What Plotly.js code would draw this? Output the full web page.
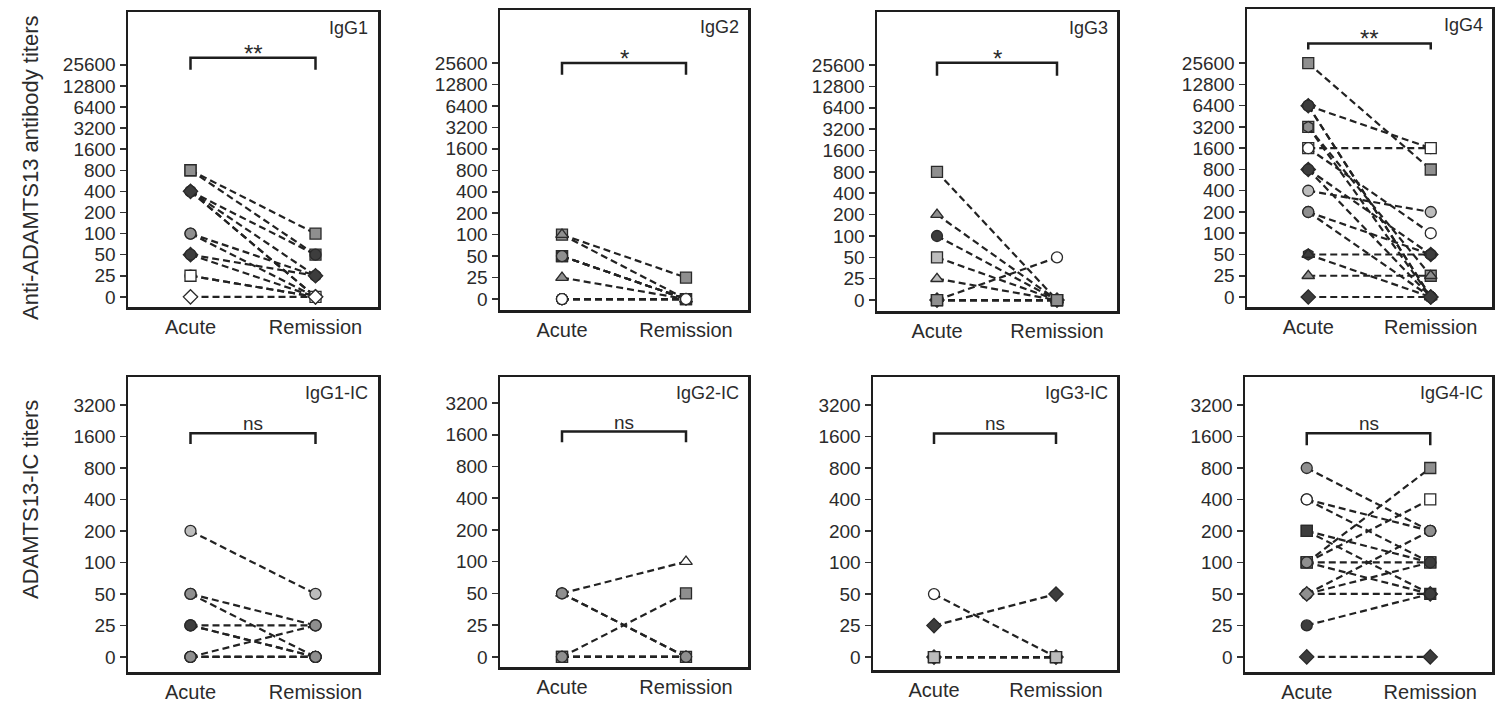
<!DOCTYPE html>
<html>
<head>
<meta charset="utf-8">
<script src="https://cdn.plot.ly/plotly-3.0.1.min.js"></script>
<style>
  html, body { margin: 0; padding: 0; background: #ffffff; }
  #chart { width: 1499px; height: 707px; }
</style>
</head>
<body>
<div id="chart"></div>
<script>
// ---------- DATA ----------
const TOP_TICKS = ['0', '25', '50', '100', '200', '400', '800', '1600', '3200', '6400', '12800', '25600'];
const BOTTOM_TICKS = ['0', '25', '50', '100', '200', '400', '800', '1600', '3200'];
const TIMEPOINTS = ['Acute', 'Remission'];
const PANEL_NAMES = ['IgG1', 'IgG2', 'IgG3', 'IgG4', 'IgG1-IC', 'IgG2-IC', 'IgG3-IC', 'IgG4-IC'];
const SIGNIFICANCE = ['**', '*', '*', '**', 'ns', 'ns', 'ns', 'ns'];
const Y_TITLES = ['Anti-ADAMTS13 antibody titers', 'ADAMTS13-IC titers'];

// IgG1
const IGG1_ACUTE     = [800, 800, 400, 400, 400, 400, 100, 100, 50, 50, 25, 25, 0];
const IGG1_REMISSION = [100, 50, 50, 25, 0, 0, 25, 0, 25, 0, 0, 0, 0];
const IGG1_SYMBOL    = ['square', 'square', 'circle', 'hexagon', 'circle', 'diamond', 'circle', 'circle', 'diamond', 'circle', 'circle', 'square', 'diamond'];
const IGG1_FILL      = ['gray', 'gray', 'dark', 'dark', 'dark', 'dark', 'gray', 'gray', 'dark', 'dark', 'open', 'open', 'open'];

// IgG2
const IGG2_ACUTE     = [100, 100, 50, 50, 50, 25, 0, 0, 0, 0, 0];
const IGG2_REMISSION = [25, 0, 0, 0, 0, 0, 0, 0, 0, 0, 0];
const IGG2_SYMBOL    = ['square', 'triangle-up', 'square', 'square', 'circle', 'triangle-up', 'circle', 'circle', 'circle', 'circle', 'circle'];
const IGG2_FILL      = ['gray', 'gray', 'dark', 'dark', 'gray', 'gray', 'gray', 'gray', 'open', 'open', 'open'];

// IgG3
const IGG3_ACUTE     = [800, 200, 100, 50, 25, 0, 0, 0, 0, 0, 0];
const IGG3_REMISSION = [0, 0, 0, 0, 0, 50, 0, 0, 0, 0, 0];
const IGG3_SYMBOL    = ['square', 'triangle-up', 'circle', 'square', 'triangle-up', 'circle', 'diamond', 'circle', 'square', 'square', 'square'];
const IGG3_FILL      = ['gray', 'gray', 'dark', 'light', 'light', 'open', 'dark', 'gray', 'gray', 'gray', 'gray'];

// IgG4
const IGG4_ACUTE     = [25600, 6400, 6400, 6400, 3200, 3200, 1600, 1600, 800, 800, 400, 200, 200, 50, 50, 25, 0];
const IGG4_REMISSION = [800, 1600, 0, 0, 25, 0, 1600, 100, 50, 0, 200, 0, 50, 50, 0, 25, 0];
const IGG4_SYMBOL    = ['square', 'circle', 'diamond', 'circle', 'square', 'hexagon', 'square', 'circle', 'diamond', 'circle', 'circle', 'circle', 'circle', 'hexagon', 'triangle-up', 'triangle-up', 'diamond'];
const IGG4_FILL      = ['gray', 'dark', 'dark', 'dark', 'gray', 'gray', 'open', 'open', 'dark', 'dark', 'light', 'gray', 'gray', 'dark', 'dark', 'gray', 'dark'];

// IgG1-IC
const IGG1IC_ACUTE     = [200, 50, 50, 25, 25, 25, 0, 0, 0, 0];
const IGG1IC_REMISSION = [50, 25, 0, 25, 0, 0, 25, 0, 0, 0];
const IGG1IC_SYMBOL    = ['circle', 'circle', 'circle', 'circle', 'circle', 'circle', 'circle', 'circle', 'circle', 'circle'];
const IGG1IC_FILL      = ['light', 'gray', 'gray', 'gray', 'dark', 'dark', 'gray', 'dark', 'dark', 'gray'];

// IgG2-IC
const IGG2IC_ACUTE     = [50, 50, 50, 0, 0, 0, 0, 0];
const IGG2IC_REMISSION = [100, 0, 0, 50, 0, 0, 0, 0];
const IGG2IC_SYMBOL    = ['triangle-up', 'circle', 'circle', 'square', 'circle', 'circle', 'square', 'circle'];
const IGG2IC_FILL      = ['open', 'light', 'gray', 'gray', 'dark', 'gray', 'gray', 'gray'];

// IgG3-IC
const IGG3IC_ACUTE     = [50, 25, 0, 0, 0, 0, 0];
const IGG3IC_REMISSION = [0, 50, 0, 0, 0, 0, 0];
const IGG3IC_SYMBOL    = ['circle', 'diamond', 'circle', 'square', 'diamond', 'square', 'square'];
const IGG3IC_FILL      = ['open', 'dark', 'gray', 'gray', 'dark', 'gray', 'light'];

// IgG4-IC
const IGG4IC_ACUTE     = [800, 400, 400, 200, 200, 100, 100, 100, 100, 50, 50, 50, 25, 0];
const IGG4IC_REMISSION = [200, 200, 100, 100, 50, 800, 400, 100, 50, 200, 100, 50, 50, 0];
const IGG4IC_SYMBOL    = ['circle', 'circle', 'circle', 'square', 'square', 'square', 'square', 'square', 'circle', 'circle', 'circle', 'diamond', 'circle', 'diamond'];
const IGG4IC_FILL      = ['gray', 'open', 'open', 'dark', 'dark', 'gray', 'open', 'gray', 'gray', 'gray', 'dark', 'gray', 'dark', 'dark'];

const PANELS = [
  { acute: IGG1_ACUTE, remission: IGG1_REMISSION, symbol: IGG1_SYMBOL, fill: IGG1_FILL, ticks: TOP_TICKS },
  { acute: IGG2_ACUTE, remission: IGG2_REMISSION, symbol: IGG2_SYMBOL, fill: IGG2_FILL, ticks: TOP_TICKS },
  { acute: IGG3_ACUTE, remission: IGG3_REMISSION, symbol: IGG3_SYMBOL, fill: IGG3_FILL, ticks: TOP_TICKS },
  { acute: IGG4_ACUTE, remission: IGG4_REMISSION, symbol: IGG4_SYMBOL, fill: IGG4_FILL, ticks: TOP_TICKS },
  { acute: IGG1IC_ACUTE, remission: IGG1IC_REMISSION, symbol: IGG1IC_SYMBOL, fill: IGG1IC_FILL, ticks: BOTTOM_TICKS },
  { acute: IGG2IC_ACUTE, remission: IGG2IC_REMISSION, symbol: IGG2IC_SYMBOL, fill: IGG2IC_FILL, ticks: BOTTOM_TICKS },
  { acute: IGG3IC_ACUTE, remission: IGG3IC_REMISSION, symbol: IGG3IC_SYMBOL, fill: IGG3IC_FILL, ticks: BOTTOM_TICKS },
  { acute: IGG4IC_ACUTE, remission: IGG4IC_REMISSION, symbol: IGG4IC_SYMBOL, fill: IGG4IC_FILL, ticks: BOTTOM_TICKS }
];

// ---------- LAYOUT / STYLE (pixel geometry, not data) ----------
const W = 1499, H = 707;
const FONT = "'Liberation Sans', Arial, sans-serif";
const TEXT = '#2b2b2b';
const FILL_COLORS = { gray: '#8f8f8f', dark: '#3d3d3d', light: '#bdbdbd', open: '#ffffff' };
// panel boxes: [left, right, top, bottom] in pixels
const BOXES = [
  [128, 378, 12, 307], [500, 748, 10, 310], [877, 1117, 12, 311], [1247, 1492, 9, 307],
  [128, 378, 377, 672], [500, 748, 377, 667], [873, 1117, 377, 670], [1245, 1492, 377, 672]
];
const Y_RANGES = [[-0.48, 13.5], [-0.51, 13.47], [-0.51, 13.48], [-0.47, 13.55],
                  [-0.48, 8.89], [-0.32, 8.82], [-0.41, 8.89], [-0.48, 8.89]];
const BRACKETS = [[10.76, 11.33], [10.45, 11.0], [10.5, 11.1], [11.65, 11.93],
                  [6.76, 7.1], [6.76, 7.1], [6.76, 7.1], [6.72, 7.1]];

const traces = [];
const layout = {
  width: W, height: H,
  margin: { l: 0, r: 0, t: 0, b: 0 },
  paper_bgcolor: '#ffffff', plot_bgcolor: '#ffffff',
  showlegend: false,
  font: { family: FONT, color: TEXT, size: 20 },
  shapes: [], annotations: []
};

PANELS.forEach((p, i) => {
  const n = i + 1;
  const xa = 'x' + (n === 1 ? '' : n), ya = 'y' + (n === 1 ? '' : n);
  const b = BOXES[i];
  p.acute.forEach((a, j) => {
    traces.push({
      type: 'scatter', mode: 'lines+markers',
      x: TIMEPOINTS,
      y: [String(a), String(p.remission[j])],
      xaxis: xa, yaxis: ya,
      line: { color: '#222222', width: 2.2, dash: '7px,4px' },
      marker: { symbol: p.symbol[j], size: 11, color: FILL_COLORS[p.fill[j]], line: { color: '#2a2a2a', width: 1.3 } },
      cliponaxis: false, hoverinfo: 'skip', showlegend: false
    });
  });
  const axLine = { showline: true, mirror: true, linecolor: '#1e1e1e', linewidth: 2.5, showgrid: false, zeroline: false, fixedrange: true };
  layout['xaxis' + (n === 1 ? '' : n)] = Object.assign({}, axLine, {
    type: 'category', categoryorder: 'array', categoryarray: TIMEPOINTS,
    range: [-0.5, 1.5], domain: [b[0] / W, b[1] / W], anchor: ya,
    ticks: '', ticklabelstandoff: 0,
    tickfont: { family: FONT, size: 20, color: TEXT }
  });
  layout['yaxis' + (n === 1 ? '' : n)] = Object.assign({}, axLine, {
    type: 'category', categoryorder: 'array', categoryarray: p.ticks,
    tickvals: p.ticks, ticktext: p.ticks,
    range: Y_RANGES[i], domain: [1 - b[3] / H, 1 - b[2] / H], anchor: xa,
    ticks: 'outside', ticklen: 6, tickwidth: 1.5, tickcolor: '#333',
    tickfont: { family: FONT, size: 19, color: TEXT }
  });
  const br = BRACKETS[i];
  layout.shapes.push({
    type: 'path', xref: xa, yref: ya,
    path: `M 0,${br[0]} L 0,${br[1]} L 1,${br[1]} L 1,${br[0]}`,
    line: { color: '#1e1e1e', width: 2.5 }
  });
  layout.annotations.push({
    xref: xa, yref: ya, x: 0.5, y: br[1], xanchor: 'center', yanchor: 'bottom',
    yshift: SIGNIFICANCE[i] === 'ns' ? -3 : -11,
    text: SIGNIFICANCE[i], showarrow: false,
    font: { family: FONT, size: SIGNIFICANCE[i] === 'ns' ? 19 : 24, color: TEXT }
  });
  layout.annotations.push({
    xref: xa + ' domain', yref: ya + ' domain', x: 0.97, y: 0.985,
    xanchor: 'right', yanchor: 'top', text: PANEL_NAMES[i], showarrow: false,
    font: { family: FONT, size: 18, color: TEXT }
  });
});

layout.annotations.push({
  xref: 'paper', yref: 'paper', x: 30 / W, y: 1 - 168 / H, xanchor: 'center', yanchor: 'middle', textangle: -90,
  text: Y_TITLES[0], showarrow: false, font: { family: FONT, size: 22, color: TEXT }
});
layout.annotations.push({
  xref: 'paper', yref: 'paper', x: 30 / W, y: 1 - 500 / H, xanchor: 'center', yanchor: 'middle', textangle: -90,
  text: Y_TITLES[1], showarrow: false, font: { family: FONT, size: 22, color: TEXT }
});

Plotly.newPlot('chart', traces, layout, { staticPlot: true, displayModeBar: false });
</script>
</body>
</html>
